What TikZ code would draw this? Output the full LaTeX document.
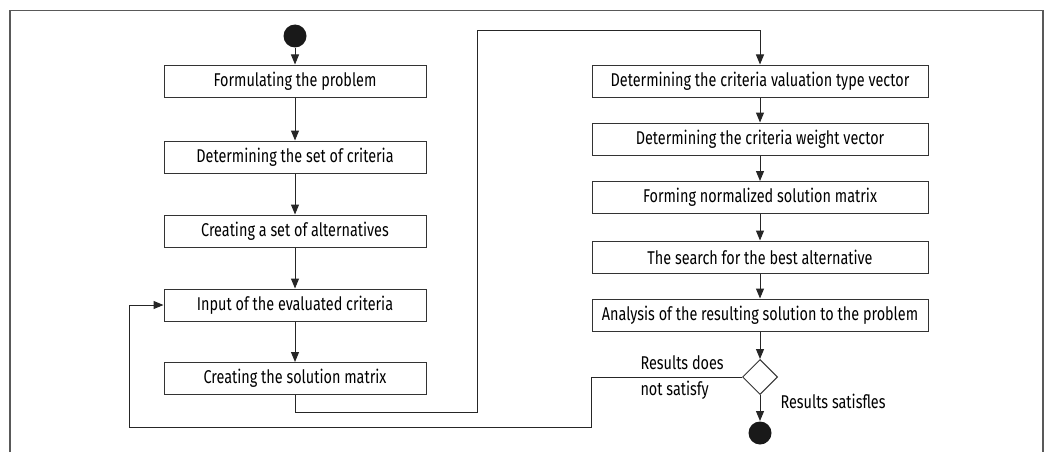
\documentclass[tikz,border=0pt]{standalone}
\usepackage{fontspec}
\setmainfont{Fira Sans}[FakeStretch=0.78]
\usetikzlibrary{arrows.meta,shapes.geometric}
\begin{document}
\begin{tikzpicture}[x=1pt,y=-1pt,
  line width=1pt,
  every node/.style={font=\fontsize{18.5}{22}\selectfont, text=black},
  stepbox/.style={draw=black!80, line width=1pt, inner sep=0pt, minimum height=32pt},
  lbox/.style={stepbox, minimum width=262pt},
  rbox/.style={stepbox, minimum width=336pt},
  dot/.style={circle, fill=black!90, draw=none, minimum size=23pt, inner sep=0pt},
  choice/.style={diamond, draw=black!80, line width=1pt, minimum width=35pt, minimum height=35pt, inner sep=0pt},
  flow/.style={draw=black!85, line width=1pt, -{Triangle[length=10pt,width=8pt]}},
  lab/.style={inner sep=0pt, align=left}
]
\useasboundingbox (0,0) rectangle (1059,452);
\draw[black!65, line width=1.6pt] (10,452) -- (10,10.5) -- (1043,10.5) -- (1043,452);

\node[dot] (start) at (295,36) {};
\node[lbox] (L1) at (295,81) {Formulating the problem};
\node[lbox] (L2) at (295,157) {Determining the set of criteria};
\node[lbox] (L3) at (295,231) {Creating a set of alternatives};
\node[lbox] (L4) at (295,305) {Input of the evaluated criteria};
\node[lbox] (L5) at (295,378.5) {Creating the solution matrix};

\node[rbox] (R1) at (760,81) {Determining the criteria valuation type vector};
\node[rbox] (R2) at (760,139) {Determining the criteria weight vector};
\node[rbox] (R3) at (760,197.5) {Forming normalized solution matrix};
\node[rbox] (R4) at (760,257) {The search for the best alternative};
\node[rbox] (R5) at (760,315) {Analysis of the resulting solution to the problem};
\node[choice] (D) at (760,377) {};
\node[dot] (end) at (760,433) {};

\node[lab, anchor=west] (t1) at (640,363) {Results does};
\node[lab, anchor=west] (t2) at (640,390) {not satisfy};
\node[lab, anchor=west] (t3) at (780,401) {Results satisfles};

\coordinate (j1) at (477,412);
\coordinate (j2) at (477,31);
\coordinate (f1) at (591,427);
\coordinate (f2) at (129,427);

\draw[flow] (start) -- (L1);
\draw[flow] (L1) -- (L2);
\draw[flow] (L2) -- (L3);
\draw[flow] (L3) -- (L4);
\draw[flow] (L4) -- (L5);
\draw[flow] (L5.south) |- (j1) -- (j2) -| (R1.north);
\draw[flow] (R1) -- (R2);
\draw[flow] (R2) -- (R3);
\draw[flow] (R3) -- (R4);
\draw[flow] (R4) -- (R5);
\draw[flow] (R5) -- (D);
\draw[flow] (D) -- (end);
\draw[flow] (D.west) -| (f1) -- (f2) |- (L4.west);
\end{tikzpicture}
\end{document}
